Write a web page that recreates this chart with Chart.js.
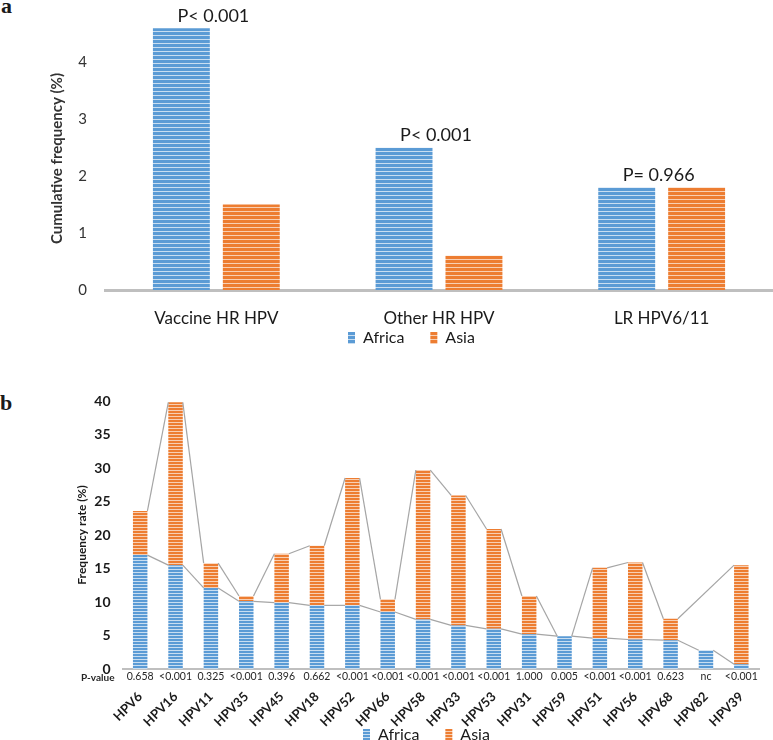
<!DOCTYPE html>
<html>
<head>
<meta charset="utf-8">
<script src="https://cdn.jsdelivr.net/npm/chart.js@4.4.0/dist/chart.umd.min.js"></script>
<style>
body{margin:0;background:#fff;width:773px;height:740px;position:relative;overflow:hidden}
.wrap{position:absolute;left:0;width:773px}
#wa{top:0;height:400px}
#wb{top:360px;height:420px}
.tag{position:absolute;font:bold 22px "Liberation Serif",serif;line-height:22px;color:#1a1a1a}
</style>
</head>
<body>
<div class="tag" style="left:1px;top:-5px">a</div>
<div class="tag" style="left:0px;top:392px">b</div>
<div id="wa" class="wrap"><canvas id="ca"></canvas></div>
<div id="wb" class="wrap"><canvas id="cb"></canvas></div>
<script>
// ---- data: panel a ----
const catsA = ['Vaccine HR HPV','Other HR HPV','LR HPV6/11'];
const africaA = [4.6, 2.5, 1.8];
const asiaA = [1.5, 0.6, 1.8];
const pTextA = ['P< 0.001','P< 0.001','P= 0.966'];

// ---- data: panel b ----
const typesB = ['HPV6','HPV16','HPV11','HPV35','HPV45','HPV18','HPV52','HPV66','HPV58','HPV33','HPV53','HPV31','HPV59','HPV51','HPV56','HPV68','HPV82','HPV39'];
const africaB = [17.0,15.5,12.1,10.1,9.9,9.5,9.5,8.5,7.4,6.5,6.0,5.2,4.9,4.6,4.4,4.3,2.8,0.7];
const asiaB   = [6.6,24.3,3.7,0.8,7.3,8.9,19.0,1.9,22.3,19.4,14.9,5.7,0,10.5,11.5,3.2,null,14.8];
const pTextB  = ['0.658','<0.001','0.325','<0.001','0.396','0.662','<0.001','<0.001','<0.001','<0.001','<0.001','1.000','0.005','<0.001','<0.001','0.623','nc','<0.001'];

Chart.defaults.font.family = 'Lato, "Open Sans", sans-serif';
Chart.defaults.color = '#262626';

// striped fill like the excel pattern
function stripes(ctx, base, light, period){
  const c = document.createElement('canvas'); c.width = 8; c.height = period;
  const g = c.getContext('2d');
  g.fillStyle = base; g.fillRect(0,0,8,period);
  g.fillStyle = light; g.fillRect(0,period-1,8,1);
  return ctx.createPattern(c,'repeat');
}

// move legend so its first box sits at (bx, cy)
function legendAt(bx, cy){
  return {id:'legendAt', afterLayout(chart){
    const lg = chart.legend; if(!lg || !lg.lineWidths) return;
    const lo = lg.options.labels, pad = lo.padding, ih = Math.max(lo.font.size, lo.boxHeight);
    const dx = bx - (lg.left + pad + lg.right - lg.lineWidths[0]) / 2;
    const dy = cy - (lg.top + pad + ih / 2);
    lg.left += dx; lg.right += dx; lg.top += dy; lg.bottom += dy;
  }};
}

const pLabelsA = {id:'pLabelsA', afterDatasetsDraw(chart){
  const ctx = chart.ctx, m0 = chart.getDatasetMeta(0), m1 = chart.getDatasetMeta(1);
  ctx.save(); ctx.font = '18px Lato'; ctx.fillStyle = '#1a1a1a'; ctx.textAlign = 'center'; ctx.textBaseline = 'bottom';
  pTextA.forEach((t,i)=>{ const a = m0.data[i], b = m1.data[i]; ctx.fillText(t, (a.x+b.x)/2 - 3, Math.min(a.y,b.y) - 3); });
  ctx.restore();
}};

const seriesLines = {id:'seriesLines', afterDatasetsDraw(chart){
  const ctx = chart.ctx; ctx.save(); ctx.strokeStyle = '#A5A5A5'; ctx.lineWidth = 1.2;
  chart.data.datasets.forEach((ds,d)=>{
    const meta = chart.getDatasetMeta(d); let prev = null;
    ds.data.forEach((v,i)=>{
      if(v == null) return;
      const el = meta.data[i];
      if(prev){ ctx.beginPath(); ctx.moveTo(prev.x + prev.width/2, prev.y); ctx.lineTo(el.x - el.width/2, el.y); ctx.stroke(); }
      prev = el;
    });
  });
  ctx.restore();
}};

const pRowB = {id:'pRowB', afterDatasetsDraw(chart){
  const ctx = chart.ctx, meta = chart.getDatasetMeta(0), y = chart.chartArea.bottom + 8;
  ctx.save(); ctx.fillStyle = '#262626'; ctx.textBaseline = 'middle';
  ctx.font = 'bold 10px Lato'; ctx.textAlign = 'right'; ctx.fillText('P-value', chart.chartArea.left - 8, y + 1);
  ctx.font = '10.5px Lato'; ctx.textAlign = 'center';
  pTextB.forEach((t,i)=>ctx.fillText(t, meta.data[i].x, y));
  ctx.restore();
}};

const ca = document.getElementById('ca'), cxa = ca.getContext('2d');
new Chart(ca, {
  type:'bar',
  data:{labels:catsA, datasets:[
    {label:'Africa', data:africaA, backgroundColor:stripes(cxa,'#5B9BD5','#C9DEF1',4), borderWidth:0, categoryPercentage:0.628, barPercentage:0.814},
    {label:'Asia', data:asiaA, backgroundColor:stripes(cxa,'#ED7D31','#F8CFB3',4), borderWidth:0, categoryPercentage:0.628, barPercentage:0.814}
  ]},
  options:{
    responsive:true, maintainAspectRatio:false, animation:false,
    layout:{padding:{top:27,left:0,right:0,bottom:0}},
    plugins:{
      legend:{position:'bottom', labels:{font:{size:16}, color:'#1a1a1a', boxWidth:7, boxHeight:12, padding:26}},
      tooltip:{enabled:false}
    },
    scales:{
      x:{grid:{display:false, drawTicks:false}, border:{color:'#BFBFBF', width:3},
         ticks:{font:{size:17}, color:'#1a1a1a', padding:18}, afterFit(s){ s.height = 58; }},
      y:{min:0, max:4.62, grid:{display:false, drawTicks:false}, border:{display:false},
         ticks:{stepSize:1, font:{size:15}, color:'#333', padding:18},
         afterBuildTicks(s){ s.ticks = s.ticks.filter(t=>Number.isInteger(t.value)); },
         title:{display:true, text:'Cumulative frequency (%)', font:{size:15, weight:'bold'}, color:'#333', padding:{top:48,bottom:0}},
         afterFit(s){ s.width = 105; }}
    }
  },
  plugins:[pLabelsA, legendAt(348, 338)]
});

const cb = document.getElementById('cb'), cxb = cb.getContext('2d');
new Chart(cb, {
  type:'bar',
  data:{labels:typesB, datasets:[
    {label:'Africa', data:africaB, backgroundColor:stripes(cxb,'#5B9BD5','#C9DEF1',3), borderWidth:0, categoryPercentage:0.8, barPercentage:0.512},
    {label:'Asia', data:asiaB, backgroundColor:stripes(cxb,'#ED7D31','#F8CFB3',3), borderWidth:0, categoryPercentage:0.8, barPercentage:0.512}
  ]},
  options:{
    responsive:true, maintainAspectRatio:false, animation:false,
    layout:{padding:{top:41,left:0,right:14,bottom:0}},
    plugins:{
      legend:{position:'bottom', labels:{font:{size:16}, color:'#1a1a1a', boxWidth:7, boxHeight:12, padding:26}},
      tooltip:{enabled:false}
    },
    scales:{
      x:{stacked:true, grid:{display:false, drawTicks:false}, border:{color:'#BFBFBF', width:2},
         ticks:{font:{size:13, weight:'bold'}, color:'#1a1a1a', minRotation:45, maxRotation:45, padding:20, autoSkip:false},
         afterFit(s){ s.height = 59; }},
      y:{stacked:true, min:0, max:40, grid:{display:false, drawTicks:false}, border:{display:false},
         ticks:{stepSize:5, font:{size:14, weight:'bold'}, color:'#1a1a1a', padding:12},
         title:{display:true, text:'Frequency rate (%)', font:{size:12, weight:'bold'}, color:'#1a1a1a', padding:{top:75,bottom:0}},
         afterFit(s){ s.width = 122.5; }}
    }
  },
  plugins:[seriesLines, pRowB, legendAt(363, 375)]
});
</script>
</body>
</html>
